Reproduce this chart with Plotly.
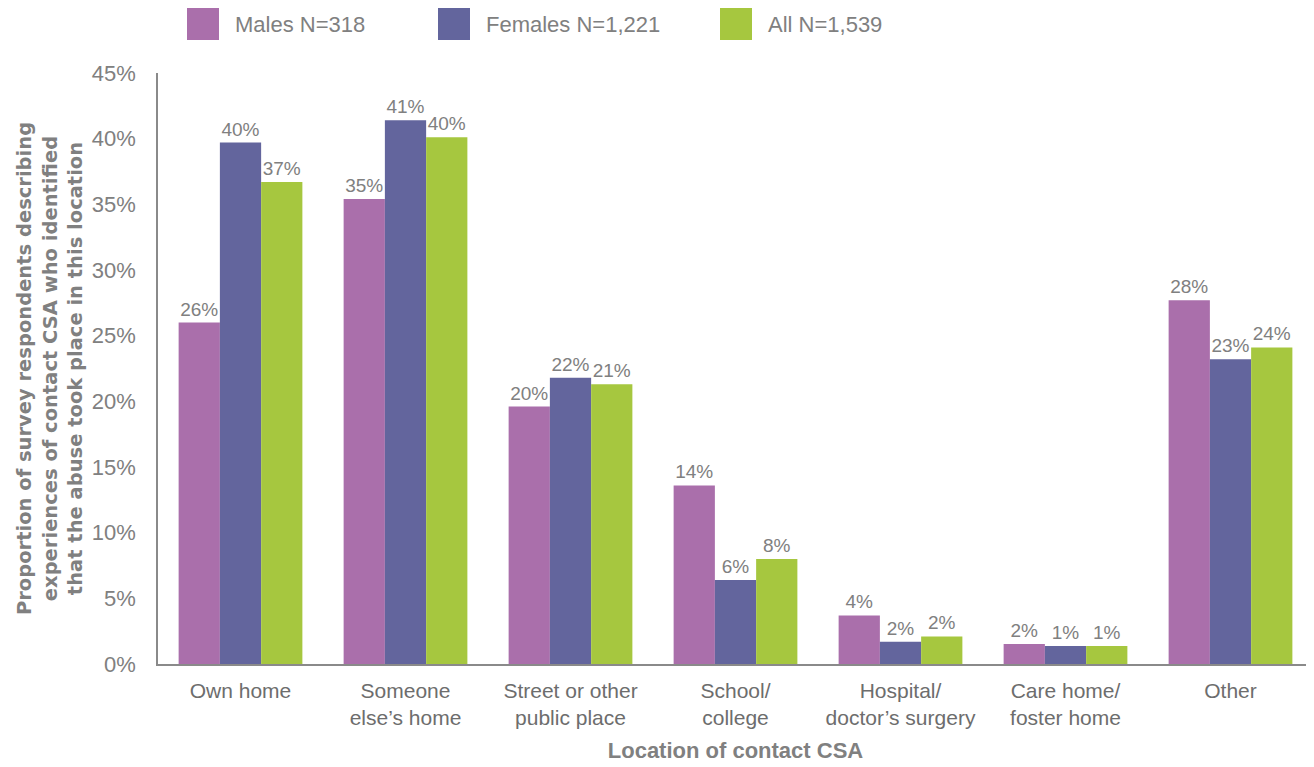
import plotly.graph_objects as go

# data
locations = ["Own home", "Someone<br>else’s home", "Street or other<br>public place",
             "School/<br>college", "Hospital/<br>doctor’s surgery",
             "Care home/<br>foster home", "Other"]
series_names = ["Males N=318", "Females N=1,221", "All N=1,539"]
males = [0.260, 0.354, 0.196, 0.136, 0.037, 0.0152, 0.277]
females = [0.397, 0.414, 0.218, 0.064, 0.017, 0.0137, 0.232]
all_resp = [0.367, 0.401, 0.213, 0.080, 0.021, 0.0137, 0.241]
y_ticks = [0, 0.05, 0.10, 0.15, 0.20, 0.25, 0.30, 0.35, 0.40, 0.45]

colors = ["#AA6FAB", "#63659D", "#A6C73F"]
gray = "#808080"
font = "Liberation Sans, Arial, sans-serif"

# page has an 8px body margin, so the figure is shifted by 8px
OFF = 8
W, H = 1314 - OFF, 767 - OFF
L, R, T, B = 158 - OFF, 1, 73 - OFF, 103
pw, ph = W - L - R, H - T - B


def px_x(x):
    return (x - OFF - L) / pw


def px_y(y):
    return (H - B - (y - OFF)) / ph


fig = go.Figure()
for name, vals, col in zip(series_names, [males, females, all_resp], colors):
    fig.add_trace(go.Bar(
        x=locations, y=vals, name=name, marker_color=col, marker_line_width=0,
        texttemplate="%{y:.0%}", textposition="outside", cliponaxis=False,
        textfont=dict(size=19, color=gray, family=font), showlegend=False,
    ))

# legend drawn as boxes + text to match the large square swatches
sq_x = [187, 438, 720]
for name, col, sx in zip(series_names, colors, sq_x):
    fig.add_shape(type="rect", xref="paper", yref="paper",
                  x0=px_x(sx), x1=px_x(sx + 32), y0=px_y(40), y1=px_y(8),
                  fillcolor=col, line_width=0)
    fig.add_annotation(xref="paper", yref="paper", x=px_x(sx + 46), y=px_y(24),
                       text=name, showarrow=False, xanchor="left", yanchor="middle",
                       font=dict(size=22, color=gray, family=font))

fig.update_layout(
    width=W, height=H,
    margin=dict(l=L, r=R, t=T, b=B),
    plot_bgcolor="white", paper_bgcolor="white",
    barmode="group", bargap=0.25, bargroupgap=0,
    font=dict(family=font, color=gray),
    xaxis=dict(
        showline=True, linecolor="#8a8a8a", linewidth=1.5, showgrid=False,
        ticks="", ticklabelstandoff=7, tickfont=dict(size=21, color="#6d6d6d"),
        title=dict(text="<b>Location of contact CSA</b>", standoff=14,
                   font=dict(size=22, color=gray)),
        automargin=False,
    ),
    yaxis=dict(
        range=[0, 0.45], tickvals=y_ticks, tickformat=".0%",
        showline=True, linecolor="#8a8a8a", linewidth=1.5, showgrid=False,
        zeroline=False, ticks="", ticklabelstandoff=16,
        tickfont=dict(size=22, color=gray),
        title=dict(text="<b>Proportion of survey respondents describing<br>"
                        "experiences of contact CSA who identified<br>"
                        "that the abuse took place in this location</b>",
                   standoff=4,
                   font=dict(size=19.5, color=gray, family="DejaVu Sans, sans-serif")),
        automargin=False,
    ),
)

fig.write_html("out.html")
